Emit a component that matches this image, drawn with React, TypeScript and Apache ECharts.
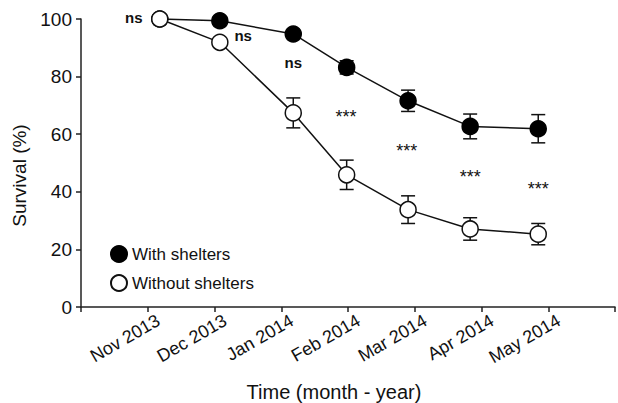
import React, { useEffect, useRef } from "react";
import * as echarts from "echarts";

// Month labels for x-axis ticks 1..7
const monthLabels = ["Nov 2013", "Dec 2013", "Jan 2014", "Feb 2014", "Mar 2014", "Apr 2014", "May 2014"];
const monthTicks = [1, 2, 3, 4, 5, 6, 7];
// Sampling time positions (in month units on the x scale)
const timeX = [1.18, 2.08, 3.18, 3.98, 4.9, 5.83, 6.85];
// Survival (%) with shelters
const withShelters = [100, 99.4, 94.8, 83.2, 71.6, 62.7, 61.9];
const withShelterErr = [0, 0, 0, 2.3, 3.7, 4.3, 4.9];
// Survival (%) without shelters
const withoutShelters = [100, 91.9, 67.4, 45.9, 33.8, 27.1, 25.3];
const withoutShelterErr = [0, 0, 5.2, 5.1, 4.8, 3.9, 3.7];
// Significance annotations
const annX = [0.79, 2.43, 3.18, 3.97, 4.88, 5.83, 6.85];
const annY = [100.5, 94.3, 85.0, 65.9, 54.1, 45.1, 40.9];
const annText = ["ns", "ns", "ns", "***", "***", "***", "***"];

const FONT = "'Liberation Sans', Arial, sans-serif";
const LABEL_SHIFT = 0.16; // visual shift of rotated tick labels (axis units)

export default function App() {
  const ref = useRef<HTMLDivElement>(null);
  useEffect(() => {
    if (!ref.current) return;
    const chart = echarts.init(ref.current, null, { renderer: "svg" });

    const errData = (ys: number[], es: number[]) =>
      ys.map((y, i) => [timeX[i], y - es[i], y + es[i], es[i]]);

    const errRender = (params: any, api: any) => {
      const e = api.value(3);
      if (!e) return null;
      const x = api.value(0);
      const lo = api.coord([x, api.value(1)]);
      const hi = api.coord([x, api.value(2)]);
      const hw = 7;
      const style = { stroke: "#111", lineWidth: 1.5 };
      return {
        type: "group",
        children: [
          { type: "line", shape: { x1: lo[0], y1: lo[1], x2: hi[0], y2: hi[1] }, style },
          { type: "line", shape: { x1: lo[0] - hw, y1: lo[1], x2: lo[0] + hw, y2: lo[1] }, style },
          { type: "line", shape: { x1: hi[0] - hw, y1: hi[1], x2: hi[0] + hw, y2: hi[1] }, style },
        ],
      };
    };

    const annRender = (params: any, api: any) => {
      const i = params.dataIndex;
      const p = api.coord([api.value(0), api.value(1)]);
      const isNs = annText[i] === "ns";
      return {
        type: "text",
        x: p[0],
        y: p[1],
        style: {
          text: annText[i],
          fill: "#111",
          font: isNs ? `bold 15px ${FONT}` : `18px ${FONT}`,
          textAlign: "center",
          textVerticalAlign: "middle",
        },
      };
    };

    chart.setOption({
      animation: false,
      grid: { left: 81, right: 3, top: 19, bottom: 96, containLabel: false, outerBoundsMode: "none" },
      legend: {
        orient: "vertical",
        left: 105,
        top: 240,
        itemWidth: 16,
        itemHeight: 16,
        itemGap: 11,
        icon: "circle",
        data: ["With shelters", "Without shelters"],
        textStyle: { fontFamily: FONT, fontSize: 17, color: "#111" },
      },
      xAxis: [
        {
          type: "value",
          min: 0,
          max: 8,
          interval: 1,
          name: "Time (month - year)",
          nameLocation: "middle",
          nameGap: 75,
          nameTextStyle: { fontFamily: FONT, fontSize: 20, color: "#111", padding: [0, 28, 0, 0] },
          axisLine: { show: true, lineStyle: { color: "#222", width: 1.5 } },
          axisTick: { show: true, length: 5, lineStyle: { color: "#222", width: 1.5 } },
          splitLine: { show: false },
          axisLabel: { show: false },
        },
        {
          type: "value",
          position: "bottom",
          min: -LABEL_SHIFT,
          max: 8 - LABEL_SHIFT,
          axisLine: { show: false },
          axisTick: { show: false },
          splitLine: { show: false },
          axisLabel: {
            customValues: monthTicks,
            rotate: 30,
            margin: 12,
            fontFamily: FONT,
            fontSize: 18,
            color: "#111",
            formatter: (v: number) => monthLabels[Math.round(v) - 1] ?? "",
          },
        },
      ],
      yAxis: {
        type: "value",
        min: 0,
        max: 100,
        interval: 20,
        name: "Survival (%)",
        nameLocation: "middle",
        nameGap: 51,
        nameTextStyle: { fontFamily: FONT, fontSize: 19, color: "#111", padding: [0, 25, 0, 0] },
        axisLine: { show: true, lineStyle: { color: "#222", width: 1.5 } },
        axisTick: { show: true, length: 5, lineStyle: { color: "#222", width: 1.5 } },
        splitLine: { show: false },
        axisLabel: { margin: 9, fontFamily: FONT, fontSize: 19, color: "#111" },
      },
      series: [
        {
          type: "custom",
          name: "errWith",
          renderItem: errRender,
          data: errData(withShelters, withShelterErr),
          z: 1,
          clip: false,
        },
        {
          type: "custom",
          name: "errWithout",
          renderItem: errRender,
          data: errData(withoutShelters, withoutShelterErr),
          z: 1,
          clip: false,
        },
        {
          type: "line",
          name: "With shelters",
          data: withShelters.map((y, i) => [timeX[i], y]),
          symbol: "circle",
          symbolSize: 16,
          clip: false,
          z: 3,
          lineStyle: { color: "#111", width: 1.5 },
          itemStyle: { color: "#000", borderColor: "#000", borderWidth: 1.5 },
        },
        {
          type: "line",
          name: "Without shelters",
          data: withoutShelters.map((y, i) => [timeX[i], y]),
          symbol: "circle",
          symbolSize: 16,
          clip: false,
          z: 4,
          lineStyle: { color: "#111", width: 1.5 },
          itemStyle: { color: "#fff", borderColor: "#111", borderWidth: 1.5 },
        },
        {
          type: "custom",
          name: "annotations",
          renderItem: annRender,
          data: annX.map((x, i) => [x, annY[i]]),
          z: 5,
          clip: false,
        },
      ],
    });
    return () => chart.dispose();
  }, []);
  return (
    <div
      ref={ref}
      style={{ position: "fixed", left: 0, top: 0, width: 618, height: 403, background: "#fff" }}
    />
  );
}
